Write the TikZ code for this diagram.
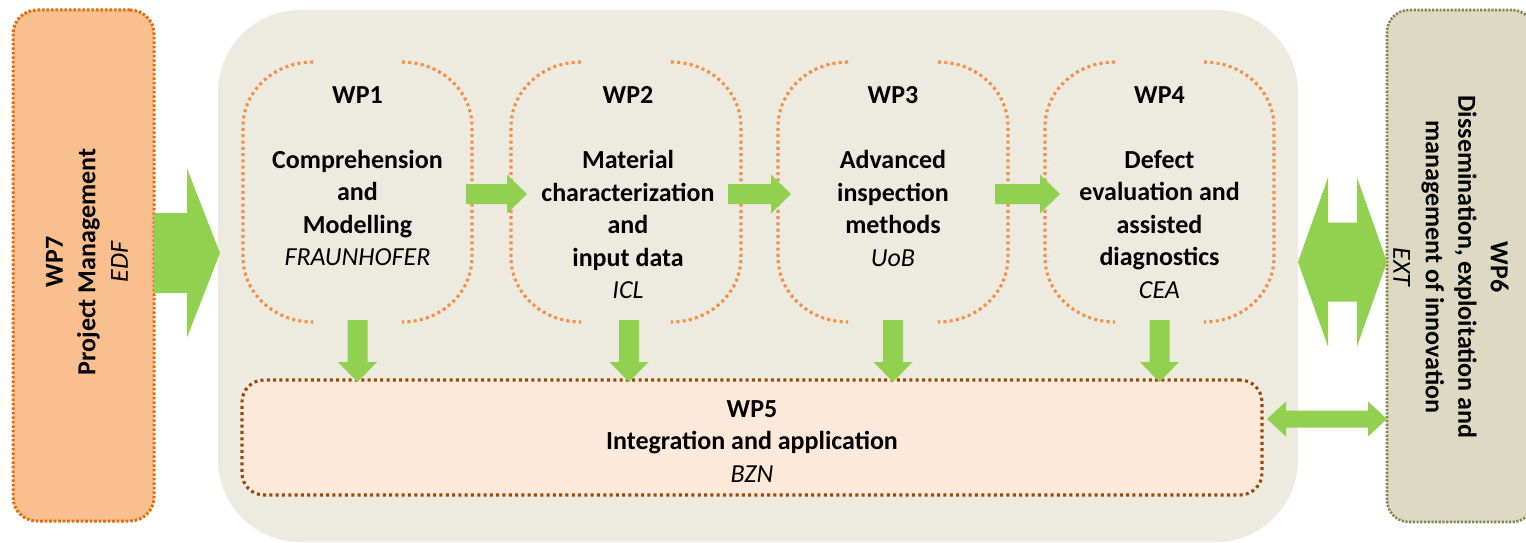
\documentclass[tikz,border=0pt]{standalone}
\usepackage{fontspec}
\setmainfont{Carlito}
\usetikzlibrary{calc}
\definecolor{agreen}{HTML}{92D050}
\definecolor{bgc}{HTML}{EDEBE0}
\definecolor{brk}{HTML}{F68E45}
\definecolor{pmfill}{HTML}{F9BF8F}
\definecolor{pmdraw}{HTML}{E46C0A}
\definecolor{intfill}{HTML}{FDE9D9}
\definecolor{intdraw}{HTML}{984807}
\definecolor{disfill}{HTML}{DDD9C3}
\definecolor{disdraw}{HTML}{8C8250}
% bracket-style work package frame (only the rounded sides are drawn)
\newcommand\wpbracket[1]{%
  \draw[brackdots] let \p1=(#1.north west), \p2=(#1.south east) in
    (\x1+70pt,\y1) .. controls (\x1+31pt,\y1) and (\x1,\y1-29pt) .. (\x1,\y1-65pt)
    -- (\x1,\y2+65pt) .. controls (\x1,\y2+29pt) and (\x1+31pt,\y2) .. (\x1+70pt,\y2)
    (\x2-70pt,\y1) .. controls (\x2-31pt,\y1) and (\x2,\y1-29pt) .. (\x2,\y1-65pt)
    -- (\x2,\y2+65pt) .. controls (\x2,\y2+29pt) and (\x2-31pt,\y2) .. (\x2-70pt,\y2);}
% rightward block arrow: start, end, body half, head half, head length
\newcommand\blkR[5]{%
  \fill[agreen] let \p1=#1, \p2=#2 in
    (\x1,\y1+#3) -- (\x2-#5,\y1+#3) -- (\x2-#5,\y1+#4) -- (\x2,\y1)
    -- (\x2-#5,\y1-#4) -- (\x2-#5,\y1-#3) -- (\x1,\y1-#3) -- cycle;}
% downward block arrow
\newcommand\blkD[5]{%
  \fill[agreen] let \p1=#1, \p2=#2 in
    (\x1-#3,\y1) -- (\x1-#3,\y2+#5) -- (\x1-#4,\y2+#5) -- (\x1,\y2)
    -- (\x1+#4,\y2+#5) -- (\x1+#3,\y2+#5) -- (\x1+#3,\y1) -- cycle;}
% double-headed horizontal block arrow
\newcommand\blkLR[5]{%
  \fill[agreen] let \p1=#1, \p2=#2 in
    (\x1,\y1) -- (\x1+#5,\y1+#4) -- (\x1+#5,\y1+#3) -- (\x2-#5,\y1+#3)
    -- (\x2-#5,\y1+#4) -- (\x2,\y1) -- (\x2-#5,\y1-#4) -- (\x2-#5,\y1-#3)
    -- (\x1+#5,\y1-#3) -- (\x1+#5,\y1-#4) -- cycle;}
\begin{document}
\begin{tikzpicture}[x=1pt,y=-1pt,
  txt/.style={font=\fontsize{26}{32.5}\selectfont\bfseries, align=center, inner sep=0pt},
  brackdots/.style={draw=brk, line width=3.1pt, dash pattern=on 3pt off 3.3pt},
  plain/.style={rectangle, inner sep=0pt, outer sep=0pt},
  bgbox/.style={plain, fill=bgc, rounded corners=82pt},
  pmbox/.style={plain, fill=pmfill, draw=pmdraw, line width=3pt, dash pattern=on 2.6pt off 1.9pt, rounded corners=24pt},
  intbox/.style={plain, fill=intfill, draw=intdraw, line width=3.1pt, dash pattern=on 3pt off 3.3pt, rounded corners=22pt},
  disbox/.style={plain, fill=disfill, draw=disdraw, line width=2.6pt, dash pattern=on 2.2pt off 1.5pt, rounded corners=22pt},
  wparea/.style={plain, minimum height=260pt},
]
\useasboundingbox (0,0) rectangle (1526,543);

% containers
\node[bgbox, minimum width=1080pt, minimum height=532pt] (bg) at (758,276) {};
\node[pmbox, minimum width=141pt, minimum height=511pt] (wp7) at (83.5,265.5) {};
\node[disbox, minimum width=147pt, minimum height=512pt] (wp6) at (1460.5,266) {};
\node[intbox, minimum width=1020pt, minimum height=115pt] (wp5) at (752,437.5) {};

% work package areas
\node[wparea, minimum width=229pt] (wp1) at (357.5,192) {};
\node[wparea, minimum width=230pt] (wp2) at (626,192) {};
\node[wparea, minimum width=230pt] (wp3) at (893,192) {};
\node[wparea, minimum width=229pt] (wp4) at (1159.5,192) {};
\wpbracket{wp1}
\wpbracket{wp2}
\wpbracket{wp3}
\wpbracket{wp4}

% texts
\node[txt, anchor=north] (t1) at ($(wp1.north)+(0,24.3)$)
  {WP1\\[32.5pt]Comprehension\\and\\Modelling\\{\mdseries\itshape FRAUNHOFER}};
\node[txt, anchor=north] (t2) at ($(wp2.north)+(2,24.3)$)
  {WP2\\[32.5pt]Material\\characterization\\and\\input data\\{\mdseries\itshape ICL}};
\node[txt, anchor=north] (t3) at ($(wp3.north)+(0,24.3)$)
  {WP3\\[32.5pt]Advanced\\inspection\\methods\\{\mdseries\itshape UoB}};
\node[txt, anchor=north] (t4) at ($(wp4.north)+(0,24.3)$)
  {WP4\\[32.5pt]Defect\\evaluation and\\assisted\\diagnostics\\{\mdseries\itshape CEA}};
\node[txt, anchor=north] (t5) at ($(wp5.north)+(0,20)$)
  {WP5\\Integration and application\\{\mdseries\itshape BZN}};
\node[txt, rotate=90] (t7) at ($(wp7.center)+(3.5,-3.5)$)
  {WP7\\Project Management\\{\mdseries\itshape EDF}};
\node[txt, rotate=-90] (t6) at ($(wp6.center)+(-9.5,1)$)
  {WP6\\Dissemination, exploitation and\\management of innovation\\{\mdseries\itshape EXT}};

% arrows
\blkR{($(wp7.east)+(0,-12.5)$)}{($(bg.west)+(2,0)$)}{40pt}{84.5pt}{33pt}
\blkR{($(wp1.east)+(-6,2)$)}{($(wp2.west)+(16,0)$)}{10pt}{19.5pt}{20pt}
\blkR{($(wp2.east)+(-13,2)$)}{($(wp3.west)+(13,0)$)}{10pt}{19.5pt}{20pt}
\blkR{($(wp3.east)+(-13,2)$)}{($(wp4.west)+(15,0)$)}{10pt}{19.5pt}{20pt}
\blkD{($(wp1.south)+(0,-2)$)}{($(wp1.south |- wp5.north)+(0,2)$)}{10pt}{19.5pt}{20pt}
\blkD{($(wp2.south)+(3,-2)$)}{($(wp2.south |- wp5.north)+(0,2)$)}{10pt}{19.5pt}{20pt}
\blkD{($(wp3.south)+(0,-2)$)}{($(wp3.south |- wp5.north)+(0,2)$)}{10pt}{19.5pt}{20pt}
\blkD{($(wp4.south)+(0,-2)$)}{($(wp4.south |- wp5.north)+(0,2)$)}{10pt}{19.5pt}{20pt}
\blkLR{($(bg.east)+(0,-14)$)}{(wp6.west)}{39.5pt}{84.5pt}{30pt}
\blkLR{($(wp5.east)+(5,-18.5)$)}{(wp6.west)}{8.5pt}{17.5pt}{19pt}
\end{tikzpicture}
\end{document}
